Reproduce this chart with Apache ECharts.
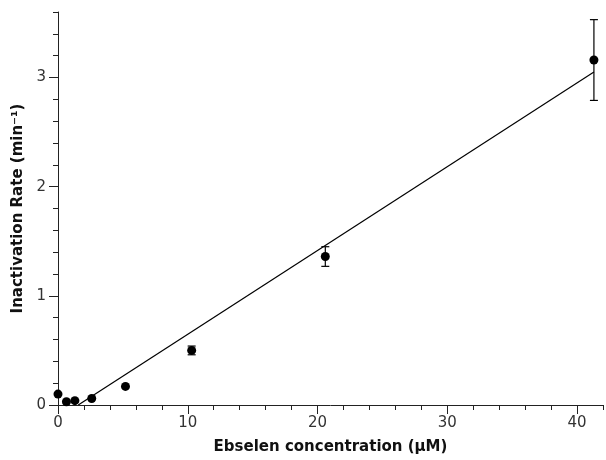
<!DOCTYPE html>
<html>
<head>
<meta charset="utf-8">
<script src="https://cdn.jsdelivr.net/npm/echarts@6/dist/echarts.min.js"></script>
<style>
  html, body { margin: 0; padding: 0; background: #fff; }
  #chart { width: 606px; height: 460px; }
</style>
</head>
<body>
<div id="chart"></div>
<script>
// measured points (uM, 1/min) with error bar half-widths
const conc = [0, 0.65, 1.3, 2.6, 5.2, 10.3, 20.6, 41.3]
const rate = [0.1, 0.03, 0.04, 0.06, 0.17, 0.5, 1.36, 3.16]
const err = [0, 0, 0, 0, 0, 0.04, 0.09, 0.37]
// linear fit end points
const fitX = [1.56, 41.3]
const fitY = [0, 3.05]

const points = conc.map((x, i) => [x, rate[i]])
const bars = conc.map((x, i) => [x, rate[i] - err[i], rate[i] + err[i]]).filter((d, i) => err[i] > 0)
const fitLine = fitX.map((x, i) => [x, fitY[i]])

const font = 'DejaVu Sans'
const axisCol = '#222'

var myChart = echarts.init(document.getElementById('chart'))
myChart.setOption({
  animation: false,
  textStyle: { fontFamily: font },
  grid: { left: 58, right: 3, top: 12, bottom: 54 },
  xAxis: [
    {
      type: 'value', min: 0, max: 42, interval: 10,
      name: 'Ebselen concentration (\u03bcM)', nameLocation: 'middle', nameGap: 35,
      nameTextStyle: { fontFamily: font, fontWeight: 'bold', fontSize: 15, color: '#111' },
      axisLine: { lineStyle: { color: axisCol, width: 1 } },
      axisTick: { length: 9, lineStyle: { color: axisCol } },
      axisLabel: { fontFamily: font, fontSize: 15, color: '#333', margin: 11, showMaxLabel: false },
      splitLine: { show: false }
    },
    {
      type: 'value', min: 0, max: 42, interval: 2, position: 'bottom',
      axisLine: { show: false },
      axisTick: { length: 5, lineStyle: { color: axisCol } },
      axisLabel: { show: false },
      splitLine: { show: false }
    }
  ],
  yAxis: [
    {
      type: 'value', min: 0, max: 3.6, interval: 1,
      name: 'Inactivation Rate (min\u207b\u00b9)', nameLocation: 'middle', nameGap: 30,
      nameTextStyle: { fontFamily: font, fontWeight: 'bold', fontSize: 15, color: '#111' },
      axisLine: { show: true, lineStyle: { color: axisCol, width: 1 } },
      axisTick: { show: true, length: 9, lineStyle: { color: axisCol } },
      axisLabel: { fontFamily: font, fontSize: 15, color: '#333', margin: 12, showMaxLabel: false },
      splitLine: { show: false }
    },
    {
      type: 'value', min: 0, max: 3.6, interval: 0.2, position: 'left',
      axisLine: { show: false },
      axisTick: { show: true, length: 5, lineStyle: { color: axisCol } },
      axisLabel: { show: false },
      splitLine: { show: false }
    }
  ],
  series: [
    {
      type: 'line',
      data: fitLine,
      showSymbol: false,
      lineStyle: { color: '#000', width: 1.2 },
      z: 2
    },
    {
      type: 'custom',
      data: bars,
      renderItem: (params, api) => {
        const x = api.value(0)
        const lo = api.coord([x, api.value(1)])
        const hi = api.coord([x, api.value(2)])
        const w = 4
        const st = { stroke: '#000', lineWidth: 1.2 }
        return {
          type: 'group',
          children: [
            { type: 'line', shape: { x1: lo[0], y1: lo[1], x2: hi[0], y2: hi[1] }, style: st },
            { type: 'line', shape: { x1: lo[0] - w, y1: lo[1], x2: lo[0] + w, y2: lo[1] }, style: st },
            { type: 'line', shape: { x1: hi[0] - w, y1: hi[1], x2: hi[0] + w, y2: hi[1] }, style: st }
          ]
        }
      },
      z: 3
    },
    {
      type: 'scatter',
      data: points,
      symbol: 'circle',
      symbolSize: 9,
      itemStyle: { color: '#000', opacity: 1 },
      z: 4
    }
  ]
})
</script>
</body>
</html>
